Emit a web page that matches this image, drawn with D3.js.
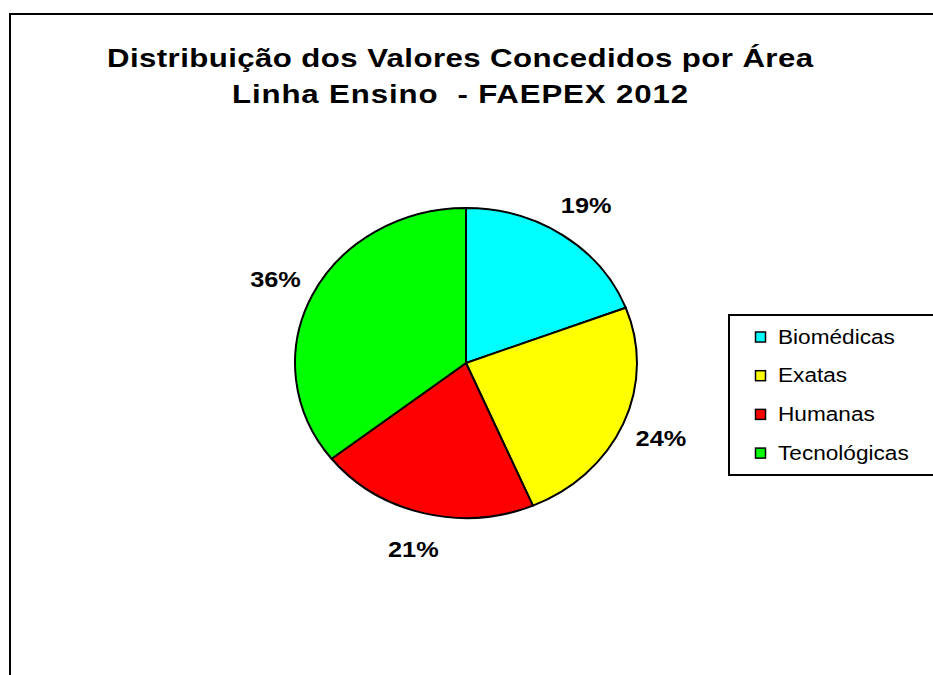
<!DOCTYPE html>
<html><head><meta charset="utf-8">
<script src="https://cdn.jsdelivr.net/npm/d3@7"></script>
<style>html,body{margin:0;padding:0;background:#fff;overflow:hidden} text{white-space:pre}</style>
</head><body>
<svg id="chart" width="933" height="675"></svg>
<script>
// ---- data ----
const titleLines = ["Distribuição dos Valores Concedidos por Área", "Linha Ensino  - FAEPEX 2012"];
const categories = ["Biomédicas", "Exatas", "Humanas", "Tecnológicas"];
const values = [19.2, 24.4, 20.8, 35.6];
const percentLabels = ["19%", "24%", "21%", "36%"];
const colors = ["#00FFFF", "#FFFF00", "#FF0000", "#00FF00"];

// ---- layout ----
const svg = d3.select("#chart");
const font = "'Liberation Sans', Arial, sans-serif";
const cx = 466, cy = 363, r = 155, sx = 1.103;

// frame
svg.append("rect").attr("x", 10).attr("y", 14).attr("width", 1000).attr("height", 800)
  .attr("fill", "#fff").attr("stroke", "#000").attr("stroke-width", 2);

// title
const titleY = [67, 103], titleW = [706, 456], titleCX = 460, tsx = 1.2;
titleLines.forEach((t, i) => {
  const g = svg.append("g").attr("transform", `translate(${titleCX},${titleY[i]}) scale(${tsx},1)`);
  const txt = g.append("text").attr("text-anchor", "middle").attr("font-family", font)
    .attr("font-weight", "bold").attr("font-size", 26).attr("fill", "#000").text(t);
  txt.attr("textLength", titleW[i] / tsx).attr("lengthAdjust", "spacing");
});

// pie
const pie = d3.pie().sort(null).value(d => d)(values);
const arc = d3.arc().innerRadius(0).outerRadius(r);
const labelArc = d3.arc().innerRadius(192).outerRadius(192);
const pg = svg.append("g").attr("transform", `translate(${cx},${cy}) scale(${sx},1)`);
pg.selectAll("path").data(pie).join("path")
  .attr("d", arc).attr("fill", (d, i) => colors[i])
  .attr("stroke", "#000").attr("stroke-width", 2)
  .attr("vector-effect", "non-scaling-stroke");

// labels
pie.forEach((d, i) => {
  const [lx, ly] = labelArc.centroid(d);
  const g = svg.append("g").attr("transform", `translate(${cx + lx * sx},${cy + ly + 8}) scale(1.15,1)`);
  g.append("text").attr("text-anchor", "middle").attr("font-family", font)
    .attr("font-weight", "bold").attr("font-size", 22).attr("fill", "#000").text(percentLabels[i]);
});

// legend
svg.append("rect").attr("x", 729).attr("y", 315).attr("width", 300).attr("height", 160)
  .attr("fill", "#fff").attr("stroke", "#000").attr("stroke-width", 2);
const legY0 = 337, legStep = 38.7;
categories.forEach((c, i) => {
  const y = legY0 + i * legStep;
  svg.append("rect").attr("x", 755.5).attr("y", y - 5).attr("width", 10).attr("height", 10)
    .attr("fill", colors[i]).attr("stroke", "#000").attr("stroke-width", 1.5);
  const g = svg.append("g").attr("transform", `translate(778,${y + 6.5}) scale(1.16,1)`);
  g.append("text").attr("font-family", font).attr("font-size", 19.5).attr("fill", "#000").text(c);
});
</script>
</body></html>
